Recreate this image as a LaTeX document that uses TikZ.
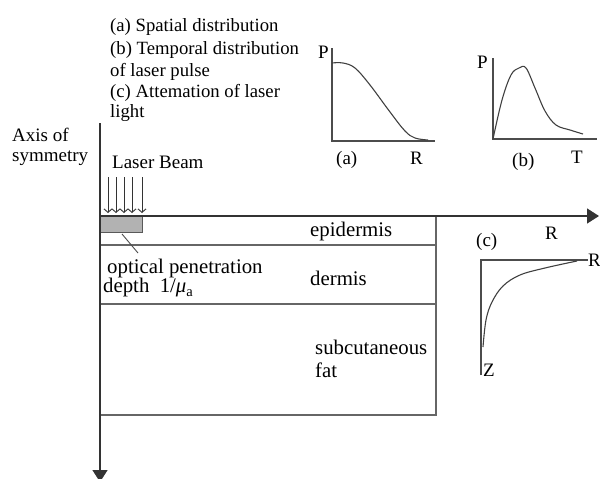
\documentclass[tikz,border=0pt]{standalone}
\usepackage{fontspec}
\setmainfont{Liberation Serif}
\usetikzlibrary{arrows.meta}
\begin{document}
\begin{tikzpicture}[x=1pt,y=-1pt,
  lbl/.style={anchor=west,inner sep=0pt,font=\fontsize{19}{21}\selectfont},
  lblbig/.style={anchor=west,inner sep=0pt,font=\fontsize{20.8}{23}\selectfont},
  lbltop/.style={anchor=west,inner sep=0pt,font=\fontsize{18.7}{21}\selectfont},
  axisline/.style={line width=1.4pt,draw=black!80},
  boxline/.style={line width=1.3pt,draw=black!60},
  plotline/.style={line width=1.2pt,draw=black!70},
  curveline/.style={line width=1.1pt,draw=black!75},
  bigtip/.style={-{Triangle[length=12pt,width=15pt]}},
  beam/.style={line width=0.9pt,draw=black!80,-{Straight Barb[length=3.5pt,width=8pt]}}
]
\useasboundingbox (0,0) rectangle (600,479);
% coordinates
\coordinate (vtop) at (100,123);
\coordinate (vbot) at (100,482);
\coordinate (horig) at (100,216);
\coordinate (hend) at (599,216);
% skin layers
\draw[boxline] (100,245) -- (436,245);
\draw[boxline] (100,304) -- (436,304);
\draw[boxline] (436,216) -- (436,415) -- (100,415);
% gray penetration block
\draw[fill=black!30,draw=black!65,line width=1pt] (100,216) rectangle (142,232);
\coordinate (lead1) at (122,234);
\coordinate (lead2) at (138,253);
\draw[line width=0.9pt,draw=black!70] (lead1) -- (lead2);
% axes
\draw[axisline,bigtip] (horig) -- (hend);
\draw[axisline,bigtip] (vtop) -- (vbot);
% laser beam arrows
\foreach \xx in {108,116,124,132,142}{
  \draw[beam] (\xx,177) -- (\xx,213);
}
% texts
\node[lbltop] (t1) at (110,27) {(a) Spatial distribution};
\node[lbltop] (t2) at (110,50) {(b) Temporal distribution};
\node[lbltop] (t3) at (110,72) {of laser pulse};
\node[lbltop] (t4) at (110,93) {(c) Attemation of laser};
\node[lbltop] (t5) at (110,113) {light};
\node[lbl] (ax1) at (12,135) {Axis of};
\node[lbl] (ax2) at (12,158) {symmetry};
\node[lbl] (lb) at (112,162) {Laser Beam};
\node[lblbig] (epi) at (310,231) {epidermis};
\node[lblbig] (op1) at (107,268) {optical penetration};
\node[lblbig] (op2) at (103,288) {depth\ \ 1/\textit{μ}\textsubscript{a}};
\node[lblbig] (der) at (310,278) {dermis};
\node[lblbig] (sub1) at (315,347) {subcutaneous};
\node[lblbig] (sub2) at (315,370) {fat};
% plot (a)
\draw[plotline] (332,48) -- (332,141) -- (435,141);
\draw[curveline] plot[smooth,tension=0.6] coordinates {(332,63) (343,63) (355,68) (370,85) (390,112) (405,131) (415,138) (428,140)};
\node[lbl] (pa) at (318,52) {P};
\node[lbl] (la) at (336,160) {(a)};
\node[lbl] (ra) at (410,158) {R};
% plot (b)
\draw[plotline] (493,58) -- (493,139) -- (597,139);
\draw[curveline] plot[smooth,tension=0.6] coordinates {(493,139) (502,100) (511,75) (519,68) (526,68) (535,88) (545,111) (556,125) (570,130) (583,134)};
\node[lbl] (pb) at (477,62) {P};
\node[lbl] (lbb) at (512,162) {(b)};
\node[lbl] (tb) at (571,157) {T};
% plot (c)
\node[lbl] (lc) at (476,242) {(c)};
\node[lbl] (rr) at (545,233) {R};
\draw[plotline] (481,375) -- (481,260) -- (588,260);
\draw[curveline] plot[smooth,tension=0.6] coordinates {(483,347) (486,320) (492,302) (503,286) (520,275) (545,268) (577,261)};
\node[lbl] (rc) at (588,260) {R};
\node[lbl] (zc) at (483,370) {Z};
\end{tikzpicture}
\end{document}
